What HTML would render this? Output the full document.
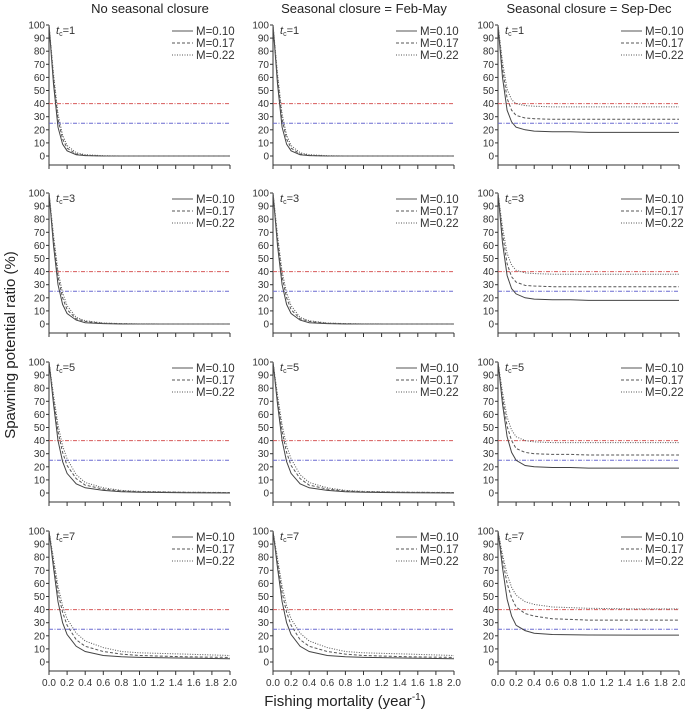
<!DOCTYPE html>
<html><head><meta charset="utf-8"><style>
html,body{margin:0;padding:0;background:#fff;}
svg{display:block;font-family:"Liberation Sans",sans-serif;}
</style></head><body>
<svg id="chart" width="685" height="716" viewBox="0 0 685 716" xmlns="http://www.w3.org/2000/svg">
<text x="150" y="13" font-size="13" text-anchor="middle" fill="#222">No seasonal closure</text>
<text x="364" y="13" font-size="13" text-anchor="middle" fill="#222">Seasonal closure = Feb-May</text>
<text x="589" y="13" font-size="13" text-anchor="middle" fill="#222">Seasonal closure = Sep-Dec</text>
<text transform="translate(15,345) rotate(-90)" font-size="15" text-anchor="middle" fill="#222">Spawning potential ratio (%)</text>
<text x="345" y="706" font-size="15" text-anchor="middle" fill="#222">Fishing mortality (year<tspan font-size="10" dy="-6">-1</tspan><tspan dy="6">)</tspan></text>
<g id="panels"></g>
</svg>
<script>
const fGrid = [0,0.05,0.1,0.15,0.2,0.3,0.4,0.6,0.8,1.0,1.5,2.0];
const xTicks = [0,0.2,0.4,0.6,0.8,1.0,1.2,1.4,1.6,1.8,2.0];
const yTicks = [0,10,20,30,40,50,60,70,80,90,100];
const mLabels = ["M=0.10","M=0.17","M=0.22"];
const tcLabels = ["1","3","5","7"];
const refLines = [40,25];
const nc_tc1_m10 = [100,55,22,9,4,1,0.3,0,0,0,0,0];
const nc_tc1_m17 = [100,60,28,13,6,1.5,0.5,0,0,0,0,0];
const nc_tc1_m22 = [100,63,32,16,8,2.5,1,0.2,0,0,0,0];
const nc_tc3_m10 = [100,60,30,15,8,3,1,0.3,0,0,0,0];
const nc_tc3_m17 = [100,65,36,20,11,4,2,0.5,0.2,0,0,0];
const nc_tc3_m22 = [100,68,40,24,14,5,2.5,0.8,0.3,0.1,0,0];
const nc_tc5_m10 = [100,68,40,24,15,7,4,2,1,0.5,0.2,0];
const nc_tc5_m17 = [100,72,47,31,21,11,6,3,1.5,1,0.5,0.3];
const nc_tc5_m22 = [100,75,52,36,26,14,8,4,2,1.2,0.6,0.4];
const nc_tc7_m10 = [100,72,46,30,21,12,8,5,4,3.5,3,2.5];
const nc_tc7_m17 = [100,76,53,38,28,17,12,8,6,5,4,3.5];
const nc_tc7_m22 = [100,79,58,43,33,22,16,11,8,7,6,5];
const sd_tc1_m10 = [100,60,35,26,22,20,19,18.5,18.5,18,18,18];
const sd_tc1_m17 = [100,67,44,35,31,29,28.5,28,28,28,28,28];
const sd_tc1_m22 = [100,72,51,43,40,38.5,38,37.5,37.5,37.5,37.5,37.5];
const sd_tc3_m10 = [100,62,37,27,23,20,19,18.5,18.5,18,18,18];
const sd_tc3_m17 = [100,69,46,36,32,29.5,29,28.5,28.5,28.5,28.5,28.5];
const sd_tc3_m22 = [100,74,54,45,41,39,38.5,38,38,38,38,38];
const sd_tc5_m10 = [100,68,43,31,25,21,20,19.5,19.5,19,19,19];
const sd_tc5_m17 = [100,73,51,40,34,31,30,29.5,29.5,29,29,29];
const sd_tc5_m22 = [100,77,58,48,43,40,39,38.5,38.5,38.5,38.5,38.5];
const sd_tc7_m10 = [100,72,48,35,28,24,22,21,20.8,20.6,20.5,20.5];
const sd_tc7_m17 = [100,78,60,49,42,37,35,33,32.5,32,32,32];
const sd_tc7_m22 = [100,82,67,57,51,46,44,42,41.5,41,40.5,40.5];

const ncRows = [[nc_tc1_m10,nc_tc1_m17,nc_tc1_m22],[nc_tc3_m10,nc_tc3_m17,nc_tc3_m22],[nc_tc5_m10,nc_tc5_m17,nc_tc5_m22],[nc_tc7_m10,nc_tc7_m17,nc_tc7_m22]];
const sdRows = [[sd_tc1_m10,sd_tc1_m17,sd_tc1_m22],[sd_tc3_m10,sd_tc3_m17,sd_tc3_m22],[sd_tc5_m10,sd_tc5_m17,sd_tc5_m22],[sd_tc7_m10,sd_tc7_m17,sd_tc7_m22]];

const NS="http://www.w3.org/2000/svg";
const root=document.getElementById('panels');
const colX=[49,273,498], rowY=[25,193,362,531], W=181, H=131;
const dashes=["","3,2","1,1.5"];
function mk(tag,attrs,parent){const e=document.createElementNS(NS,tag);for(const k in attrs)e.setAttribute(k,attrs[k]);parent.appendChild(e);return e;}
for(let r=0;r<4;r++)for(let c=0;c<3;c++){
  const x0=colX[c], y0=rowY[r];
  const sx=f=>x0+f/2*W, sy=v=>y0+H-v/100*H;
  const g=mk('g',{},root);
  
  
  const base=y0+H+9;
  const ax=mk('path',{d:`M${x0},${y0} V${base} H${x0+W}`,stroke:'#333','stroke-width':1,fill:'none'},g);
  
  
  yTicks.forEach(v=>{
    mk('line',{x1:x0-3,x2:x0,y1:sy(v),y2:sy(v),stroke:'#333'},g);
    const t=mk('text',{x:x0-4,y:sy(v)+3.5,'font-size':10,'text-anchor':'end',fill:'#333'},g);
    t.textContent=v;
    
    
  });
  xTicks.forEach(f=>{
    mk('line',{x1:sx(f),x2:sx(f),y1:base,y2:base+4,stroke:'#333'},g);
    if(r===3){const t=mk('text',{x:sx(f),y:base+15,'font-size':10,'text-anchor':'middle',fill:'#333'},g);
      t.textContent=f.toFixed(1);
      
      }
  });
  refLines.forEach((v,i)=>{
    const l=mk('line',{x1:x0,x2:x0+W,y1:sy(v),y2:sy(v),stroke:i?'#6a6ad0':'#d85a5a','stroke-width':1,'stroke-dasharray':'4,1.5,1,1.5'},g);
    
    
  });
  const rows=c===2?sdRows[r]:ncRows[r];
  rows.forEach((s,k)=>{
    const d=s.map((v,i)=>(i?'L':'M')+sx(fGrid[i]).toFixed(1)+','+sy(v).toFixed(1)).join(' ');
    const p=mk('path',{d:d,fill:'none',stroke:k?'#555':'#444','stroke-width':1,'stroke-dasharray':dashes[k]},g);
    
    
    const ly=y0+6+k*12;
    mk('line',{x1:x0+W-58,x2:x0+W-37,y1:ly,y2:ly,stroke:'#555','stroke-dasharray':dashes[k]},g);
    const t=mk('text',{x:x0+W-34,y:ly+4,'font-size':11.5,fill:'#333'},g);
    t.textContent=mLabels[k];
    
    
  });
  const tc=mk('text',{x:x0+7,y:y0+9,'font-size':11,fill:'#333'},g);
  tc.innerHTML='<tspan font-style="italic">t</tspan><tspan font-size="7" dy="2">c</tspan><tspan dy="-2">='+tcLabels[r]+'</tspan>';
  
  
}
</script>
</body></html>
